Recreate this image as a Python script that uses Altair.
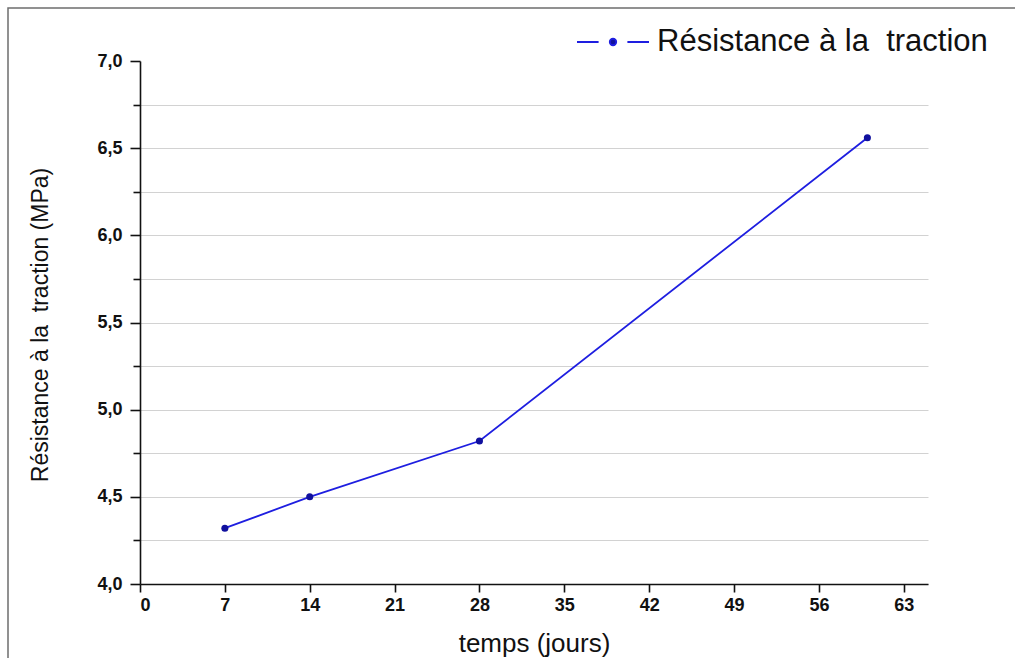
import altair as alt
import pandas as pd

# Résistance à la traction en fonction de l'âge
jours = [7, 14, 28, 60]
resistance = [4.32, 4.50, 4.82, 6.56]
serie = "Résistance à la\u00a0 traction"

x_ticks = [0, 7, 14, 21, 28, 35, 42, 49, 56, 63]
y_ticks = [4.0, 4.25, 4.5, 4.75, 5.0, 5.25, 5.5, 5.75, 6.0, 6.25, 6.5, 6.75, 7.0]

df = pd.DataFrame({"jours": jours, "resistance": resistance, "serie": [serie] * len(jours)})

W, H = 788, 523
FONT = "Liberation Sans"
LINE_BLUE = "#1e1ee0"
DOT_BLUE = "#10109e"

x_enc = alt.X(
    "jours:Q",
    scale=alt.Scale(domain=[0, 65], nice=False, zero=False),
    axis=alt.Axis(
        values=x_ticks,
        grid=False,
        title="temps (jours)",
        titleFont=FONT,
        titleFontSize=26,
        titleFontWeight="normal",
        titleColor="#111111",
        titleX=W / 2,
        titleY=59,
        titleBaseline="middle",
        labelFont=FONT,
        labelFontSize=18,
        labelFontWeight="bold",
        labelColor="#111111",
        labelPadding=4,
        tickSize=8,
        tickWidth=1.6,
        tickColor="#111111",
        domainColor="#111111",
        domainWidth=1.6,
    ),
)

y_enc = alt.Y(
    "resistance:Q",
    scale=alt.Scale(domain=[4, 7], nice=False, zero=False),
    axis=alt.Axis(
        values=y_ticks,
        grid=True,
        gridColor={"condition": {"test": "datum.value >= 7", "value": "transparent"}, "value": "#d2d2d2"},
        gridWidth=1,
        labelExpr="datum.value % 0.5 == 0 ? replace(format(datum.value, '.1f'), '.', ',') : ''",
        title="Résistance à la\u00a0 traction (MPa)",
        titleFont=FONT,
        titleFontSize=23,
        titleFontWeight="normal",
        titleColor="#111111",
        titleAngle=-90,
        titleX=-100,
        titleY=H / 2 + 2,
        titleAlign="center",
        titleBaseline="middle",
        labelFont=FONT,
        labelFontSize=18,
        labelFontWeight="bold",
        labelColor="#111111",
        labelPadding=8,
        tickSize={"condition": {"test": "datum.value % 0.5 == 0", "value": 10}, "value": 7},
        tickWidth=1.6,
        tickColor="#111111",
        domainColor="#111111",
        domainWidth=1.6,
    ),
)

# Légende : trait – point – trait
legend_symbol = (
    "M -1 0 L -0.4 0 M 0.4 0 L 1 0 "
    "M -0.09 0 A 0.09 0.09 0 1 0 0.09 0 A 0.09 0.09 0 1 0 -0.09 0 Z"
)

line = alt.Chart(df).mark_line(strokeWidth=1.8).encode(
    x=x_enc,
    y=y_enc,
    color=alt.Color(
        "serie:N",
        scale=alt.Scale(range=[LINE_BLUE]),
        legend=alt.Legend(
            title=None,
            orient="none",
            legendX=436,
            legendY=-56,
            symbolType=legend_symbol,
            symbolSize=5184,
            symbolStrokeWidth=1.8,
            symbolFillColor=DOT_BLUE,
            symbolStrokeColor=LINE_BLUE,
            labelFont=FONT,
            labelFontSize=31,
            labelColor="#111111",
            labelOffset=7,
            labelLimit=500,
        ),
    ),
)

points = alt.Chart(df).mark_point(filled=True, size=50, color=DOT_BLUE, opacity=1).encode(
    x="jours:Q",
    y="resistance:Q",
)

# Cadre autour de la figure
frame = alt.Chart(pd.DataFrame({"k": [0]})).mark_rect(
    fill=None, stroke="#6e6e6e", strokeWidth=1.5
).encode(
    x=alt.value(-132),
    x2=alt.value(W + 120),
    y=alt.value(-53),
    y2=alt.value(H + 120),
)

chart = (
    alt.layer(frame, line, points)
    .properties(
        width=W,
        height=H,
        padding={"left": 140, "top": 61, "right": 87, "bottom": 74},
        autosize=alt.AutoSizeParams(type="none"),
        background="white",
    )
    .configure_view(stroke=None)
)

chart.save("out.html", embed_options={"renderer": "svg", "actions": False})
